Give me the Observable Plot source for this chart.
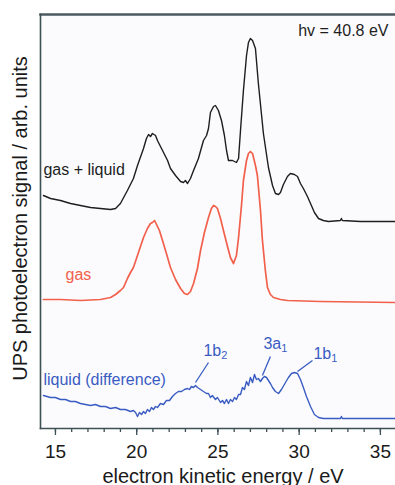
<!DOCTYPE html>
<html>
<head>
<meta charset="utf-8">
<script src="https://cdn.jsdelivr.net/npm/d3@7"></script>
<script src="https://cdn.jsdelivr.net/npm/@observablehq/plot@0.6"></script>
<style>
  html, body { margin: 0; padding: 0; background: #ffffff; }
  #chart svg { display: block; overflow: visible; }
</style>
</head>
<body>
<div id="chart"></div>
<script>
// ---- gas + liquid spectrum (black) ----
const energyGasLiquid = [14.26,14.70,15.31,15.93,16.54,17.16,17.77,18.39,18.70,19.00,19.43,19.80,20.05,20.42,20.60,20.73,20.85,20.97,21.16,21.28,21.59,21.90,22.08,22.39,22.70,22.88,23.00,23.13,23.31,23.50,23.80,24.11,24.30,24.42,24.54,24.73,24.85,25.03,25.22,25.40,25.53,25.65,25.90,26.14,26.27,26.39,26.57,26.76,26.88,27.00,27.13,27.31,27.49,27.80,28.11,28.36,28.54,28.73,28.85,29.03,29.28,29.46,29.71,29.90,30.08,30.26,30.51,30.70,30.94,31.19,31.49,31.80,32.54,32.60,32.66,33.77,35.93];
const signalGasLiquid = [233,230,228,225,223,221,220,219,220,225,238,250,263,280,290,294,292,295,293,288,278,268,260,253,247,246,248,245,250,258,270,288,293,300,316,322,323,318,308,293,278,268,268,266,270,298,338,373,386,390,388,380,345,295,261,243,235,234,236,244,252,255,254,252,245,240,232,225,216,210,208,207,208,210,208,207,207];

// ---- gas spectrum (red) ----
const energyGas = [14.26,15.31,16.54,17.77,18.39,18.70,19.00,19.19,19.43,19.62,19.80,20.11,20.42,20.66,20.85,20.97,21.10,21.22,21.40,21.59,21.83,22.08,22.39,22.70,22.94,23.13,23.31,23.50,23.74,23.93,24.17,24.42,24.60,24.73,24.85,24.97,25.16,25.34,25.59,25.77,25.96,26.14,26.27,26.45,26.57,26.76,26.88,27.00,27.13,27.31,27.43,27.62,27.74,27.92,28.05,28.23,28.42,28.85,29.28,31.31,35.93];
const signalGas = [129,129,128,129,131,134,138,141,150,156,161,176,191,200,205,206,208,204,198,188,175,161,149,140,135,134,137,145,160,178,196,211,220,223,222,220,210,198,182,171,165,173,191,223,248,268,275,277,275,263,253,218,188,158,141,134,131,129,128,127,126];

// ---- liquid (difference) spectrum (blue) ----
const energyLiquid = [14.26,14.70,15.00,15.31,15.62,15.93,16.23,16.54,17.16,17.46,17.77,18.08,18.39,18.70,19.00,19.31,19.62,19.80,19.93,20.05,20.17,20.30,20.42,20.54,20.66,20.79,20.91,21.03,21.16,21.28,21.46,21.65,21.83,22.02,22.20,22.39,22.57,22.76,22.94,23.13,23.25,23.37,23.50,23.62,23.74,23.93,24.11,24.30,24.42,24.54,24.66,24.85,24.97,25.16,25.28,25.40,25.53,25.65,25.77,25.90,26.02,26.14,26.27,26.39,26.51,26.63,26.76,26.88,27.00,27.13,27.25,27.37,27.49,27.62,27.74,27.86,27.99,28.11,28.23,28.36,28.54,28.73,28.91,29.16,29.34,29.53,29.71,29.90,30.08,30.26,30.45,30.70,30.94,31.19,31.49,31.92,32.54,32.60,32.66,35.93];
const signalLiquid = [33,31,31,29,29,27,27,25,23,24,22,22,20,21,19,19,17,18,16,12,16,14,17,15,19,17,21,19,22,21,25,24,28,28,32,35,37,37,39,40,39,42,41,43,41,39,37,35,35,31,33,29,31,26,28,25,29,25,29,27,31,29,34,34,41,39,47,43,51,46,54,49,50,47,50,52,51,48,45,41,37,35,39,46,51,55,56,55,49,41,32,22,14,11,10,10,10,12,10,10];

// ---- x axis ticks ----
const majorTicks = [15, 20, 25, 30, 35];
const minorTicks = [15,16,17,18,19,20,21,22,23,24,25,26,27,28,29,30,31,32,33,34,35];

// ---- curve labels ----
const curveLabels = ["gas + liquid", "gas", "liquid (difference)"];
const curveLabelX = [14.26, 15.62, 14.26];
const curveLabelY = [254, 149, 44];
const curveLabelColors = ["#1e1e1e", "#f2604c", "#3a5cc2"];

// ---- orbital annotations ----
const orbitalBase = ["1b", "3a", "1b"];
const orbitalSub = ["2", "1", "1"];
const orbitalX = [24.11, 27.80, 30.88];
const orbitalY = [73, 80, 70];
const leaderX1 = [24.42, 28.23, 30.82];
const leaderY1 = [66, 72, 68];
const leaderX2 = [23.62, 27.74, 29.90];
const leaderY2 = [46, 53, 57];

const photonLabel = "hv = 40.8 eV";
const xLabel = "electron kinetic energy / eV";
const yLabel = "UPS photoelectron signal / arb. units";

const xMin = 14.08, xMax = 35.93, yMin = 0, yMax = 414;

const black = "#1e1e1e", red = "#f2604c", blue = "#3a5cc2", frameColor = "#3e4f56";
const font = "'Liberation Sans', Arial, Helvetica, sans-serif";

const chart = Plot.plot({
  width: 395,
  height: 485,
  marginLeft: 40,
  marginRight: 0,
  marginTop: 14,
  marginBottom: 57,
  style: {fontFamily: font, background: "#ffffff", color: "#1a1a1a"},
  x: {domain: [xMin, xMax], label: null},
  y: {domain: [yMin, yMax], axis: null},
  marks: [
    Plot.frame({fill: "#fbfbfd", stroke: null}),
    Plot.lineY(signalGasLiquid, {x: energyGasLiquid, stroke: black, strokeWidth: 1.4}),
    Plot.lineY(signalGas, {x: energyGas, stroke: red, strokeWidth: 1.7}),
    Plot.lineY(signalLiquid, {x: energyLiquid, stroke: blue, strokeWidth: 1.4}),
    Plot.link(orbitalBase, {x1: leaderX1, y1: leaderY1, x2: leaderX2, y2: leaderY2, stroke: blue, strokeWidth: 1.3}),
    Plot.text(orbitalBase, {x: orbitalX, y: orbitalY, text: (d, i) => d + "_" + orbitalSub[i], fill: blue, fontSize: 16, textAnchor: "start", lineAnchor: "bottom"}),
    Plot.text(curveLabels, {x: curveLabelX, y: curveLabelY, fill: curveLabelColors, fontSize: 16, textAnchor: "start", lineAnchor: "bottom"}),
    Plot.text([photonLabel], {frameAnchor: "top-right", dx: -7, dy: 21, fontSize: 16, textAnchor: "end", lineAnchor: "bottom", fill: black}),
    Plot.frame({anchor: "top", stroke: "#4a5a60", strokeWidth: 2.5}),
    Plot.frame({anchor: "left", stroke: frameColor, strokeWidth: 1.6}),
    Plot.frame({anchor: "bottom", stroke: frameColor, strokeWidth: 1.6}),
    Plot.frame({anchor: "right", stroke: "#e8b8b0", strokeWidth: 1}),
    Plot.axisX({ticks: minorTicks, tickSize: 4, tickFormat: () => "", stroke: frameColor, strokeWidth: 1.3, label: null}),
    Plot.axisX({ticks: majorTicks, tickSize: 7, tickPadding: 9, fontSize: 19, stroke: frameColor, strokeWidth: 1.3, fill: "#1a1a1a", label: null}),
    Plot.text([xLabel], {frameAnchor: "bottom", dx: 5, dy: 54, fontSize: 20, lineAnchor: "bottom", fill: "#1a1a1a"}),
    Plot.text([yLabel], {frameAnchor: "left", dx: -20, dy: -3, rotate: -90, fontSize: 20, textAnchor: "middle", lineAnchor: "middle", fill: "#1a1a1a"})
  ]
});

// subscripts for orbital labels
d3.select(chart).selectAll("text").each(function () {
  const t = this.textContent;
  if (t.includes("_")) {
    const [a, b] = t.split("_");
    const s = d3.select(this);
    s.text(a);
    s.append("tspan").attr("font-size", "11px").attr("dy", "0.3em").text(b);
  }
});

document.getElementById("chart").appendChild(chart);
</script>
</body>
</html>
